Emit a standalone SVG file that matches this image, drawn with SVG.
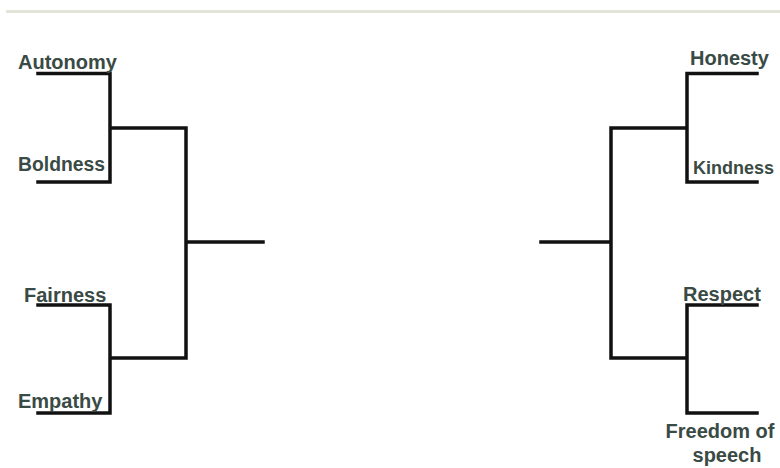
<svg xmlns="http://www.w3.org/2000/svg" width="780" height="468" viewBox="0 0 780 468">
<style>
.lbl{font-family:"Liberation Sans",Arial,sans-serif;font-weight:bold;font-size:20px;fill:#3a4a44}
.ln{stroke:#111;stroke-width:3.5;fill:none;stroke-linecap:square}
</style>
<rect width="780" height="468" fill="#fff"/>
<rect x="6" y="10" width="774" height="3" fill="#e2e5d8"/>
<g id="connectors">
<path class="ln" d="M38 73.5H110V182H38M110 128H186V358H110M38 305H110V413H38M186 242H263"/>
<path class="ln" d="M757 73.5H687V182H757M687 128H611V358H687M757 305H687V413H757M611 242H541"/>
</g>
<g id="autonomy"><text class="lbl" x="18" y="69">Autonomy</text></g>
<g id="boldness"><text class="lbl" x="18" y="171" textLength="87" lengthAdjust="spacingAndGlyphs">Boldness</text></g>
<g id="fairness"><text class="lbl" x="24" y="302">Fairness</text></g>
<g id="empathy"><text class="lbl" x="18" y="408">Empathy</text></g>
<g id="honesty"><text class="lbl" x="690" y="65">Honesty</text></g>
<g id="kindness"><text class="lbl" x="693" y="174" style="font-size:18px">Kindness</text></g>
<g id="respect"><text class="lbl" x="683" y="301">Respect</text></g>
<g id="freedom"><text class="lbl" x="720" y="438" text-anchor="middle">Freedom of</text><text class="lbl" x="727" y="462" text-anchor="middle">speech</text></g>
</svg>
